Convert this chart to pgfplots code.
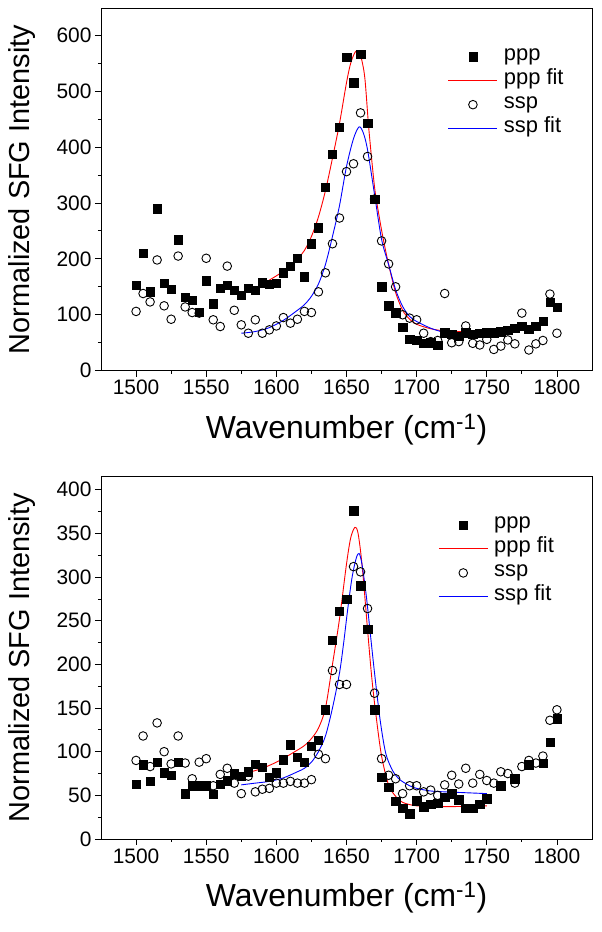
\documentclass[border=0pt]{standalone}
\usepackage{pgfplots}
\pgfplotsset{compat=1.18}
\usepackage{fontspec}
\setmainfont{Liberation Sans}

\pgfplotsset{
  sfgaxis/.style={
    scale only axis,
    width=491bp,
    xmin=1475, xmax=1825,
    xtick={1500,1550,...,1800},
    minor x tick num=1,
    minor y tick num=1,
    tick align=outside,
    tick pos=left,
    major tick length=6bp,
    minor tick length=3bp,
    axis line style={line width=0.9bp},
    every tick/.style={black,line width=0.8bp},
    /pgf/number format/assume math mode=true,
    /pgf/number format/1000 sep={},
    tick label style={font=\fontsize{21}{25}\selectfont},
    every axis x label/.style={at={(axis description cs:0.5,-0.187)},anchor=base,font=\fontsize{32}{38}\selectfont},
    every axis y label/.style={at={(axis description cs:-0.161,0.5)},rotate=90,anchor=center,font=\fontsize{29}{35}\selectfont},
    xlabel={Wavenumber (cm\textsuperscript{-1})},
    ylabel={Normalized SFG Intensity},
    legend cell align=left,
    legend style={draw=none,fill=none,inner sep=0pt,outer sep=0pt,
      font=\fontsize{22}{26}\selectfont,
      row sep=0pt,
      nodes={inner sep=0pt,text height=16bp,text depth=8bp},
      /tikz/every odd column/.append style={column sep=6bp}},
  },
  markleg/.style={legend image code/.code={\draw[mark repeat=2,mark phase=2,##1] plot coordinates {(0bp,0bp) (24.5bp,0bp) (49bp,0bp)};}},
  lineleg/.style={legend image code/.code={\draw[##1] (0bp,0bp) -- (49bp,0bp);}},
  pppstyle/.style={only marks,mark=square*,mark size=4.2bp,black,markleg},
  sspstyle/.style={only marks,mark=o,mark size=4.3bp,black,mark options={line width=0.9bp},markleg},
  fitred/.style={no marks,red,line width=0.9bp,smooth,lineleg},
  fitblue/.style={no marks,blue,line width=0.9bp,smooth,lineleg},
}

\pgfplotstableread{
x y
1500 153
1505 210
1510 141
1515 290
1520 156
1525 146
1530 234
1535 131
1540 126
1545 105
1550 161
1555 120
1560 147
1565 153
1570 144
1575 135
1580 147
1585 144
1590 157
1595 155
1600 156
1605 175
1610 187
1615 201
1620 168
1625 227
1630 256
1635 328
1640 387
1645 435
1650 561
1655 515
1660 566
1665 443
1670 307
1675 150
1680 116
1685 104
1690 78
1695 56
1700 54
1705 49
1710 50
1715 46
1720 68
1725 65
1730 62
1735 68
1740 65
1745 67
1750 68
1755 68
1760 70
1765 72
1770 76
1775 80
1780 74
1785 80
1790 89
1795 123
1800 113
}\topppp

\pgfplotstableread{
x y
1500 106
1505 138
1510 123
1515 198
1520 116
1525 92
1530 205
1535 114
1540 104
1545 103
1550 201
1555 91
1560 79
1565 187
1570 108
1575 82
1580 67
1585 91
1590 67
1595 73
1600 80
1605 95
1610 85
1615 92
1620 106
1625 104
1630 141
1635 175
1640 227
1645 273
1650 356
1655 370
1660 461
1665 383
1670 307
1675 232
1680 191
1685 150
1690 100
1695 94
1700 91
1705 67
1710 52
1715 54
1720 138
1725 50
1730 52
1735 80
1740 49
1745 46
1750 56
1755 38
1760 44
1765 55
1770 48
1775 103
1780 37
1785 48
1790 54
1795 137
1800 67
}\topssp

\pgfplotstableread{
x y
1575 138
1585 148
1595 162
1605 178
1615 200
1620 215
1625 240
1630 275
1635 322
1640 380
1645 442
1650 515
1653 550
1656 569
1658 572
1660 564
1663 525
1666 430
1670 328
1673 280
1676 238
1680 190
1685 140
1690 108
1695 92
1700 83
1710 75
1720 71
1730 70
1740 70
1750 72
}\topfitppp

\pgfplotstableread{
x y
1575 67
1585 70
1595 77
1605 90
1615 108
1620 118
1625 133
1630 155
1635 190
1640 240
1645 295
1650 365
1655 415
1659 436
1662 425
1665 395
1670 315
1675 235
1680 190
1685 145
1690 115
1695 97
1700 88
1710 76
1720 68
1725 66
}\topfitssp

\pgfplotstableread{
x y
1500 63
1505 85
1510 66
1515 88
1520 76
1525 73
1530 88
1535 52
1540 61
1545 61
1550 61
1555 51
1560 63
1565 67
1570 75
1575 72
1580 77
1585 86
1590 82
1595 71
1600 76
1605 91
1610 108
1615 94
1620 88
1625 106
1630 113
1635 148
1640 228
1645 261
1650 275
1655 376
1660 290
1665 240
1670 148
1675 71
1680 59
1685 43
1690 35
1695 29
1700 44
1705 37
1710 40
1715 41
1720 48
1725 52
1730 45
1735 35
1740 35
1745 40
1750 46
1760 61
1770 69
1780 85
1790 87
1795 111
1800 138
}\botppp

\pgfplotstableread{
x y
1500 90
1505 118
1510 83
1515 133
1520 100
1525 86
1530 118
1535 87
1540 69
1545 88
1550 92
1555 61
1560 74
1565 81
1570 64
1575 52
1580 72
1585 54
1590 57
1595 58
1600 64
1605 64
1610 66
1615 64
1620 64
1625 68
1630 97
1635 92
1640 193
1645 177
1650 177
1655 312
1660 306
1665 264
1670 167
1675 92
1680 73
1685 69
1690 52
1695 61
1700 61
1705 54
1710 56
1715 50
1720 62
1725 73
1730 63
1735 81
1740 64
1745 74
1750 67
1755 64
1760 77
1765 75
1770 64
1775 83
1780 90
1785 87
1790 95
1795 136
1800 148
}\botssp

\pgfplotstableread{
x y
1570 71
1580 76
1590 81
1600 88
1610 97
1620 107
1625 115
1630 127
1635 150
1640 200
1645 252
1650 315
1653 345
1656 357
1658 352
1660 330
1662 298
1665 240
1668 185
1671 142
1675 95
1680 62
1685 49
1690 42
1700 38
1720 37
1750 38
}\botfitppp

\pgfplotstableread{
x y
1575 62
1585 64
1595 66
1605 70
1615 77
1620 81
1625 88
1630 100
1635 118
1640 150
1645 190
1648 225
1651 265
1654 300
1657 322
1659 327
1661 315
1664 280
1667 235
1670 190
1674 136
1678 98
1683 78
1688 68
1695 61
1700 58
1710 55
1720 54
1735 53
1750 52
}\botfitssp

\begin{document}
\begin{tikzpicture}
\useasboundingbox (0bp,0bp) rectangle (602bp,932bp);

\begin{axis}[sfgaxis,
  at={(101bp,561.3bp)}, anchor=south west,
  height=362.4bp,
  ymin=0, ymax=648,
  ytick={0,100,...,600},
  legend style={at={(0.7067,0.8996)},anchor=north west},
]
\addplot[pppstyle] table[x=x,y=y] {\topppp};
\addlegendentry{ppp}
\addplot[fitred] table[x=x,y=y] {\topfitppp};
\addlegendentry{ppp fit}
\addplot[sspstyle] table[x=x,y=y] {\topssp};
\addlegendentry{ssp}
\addplot[fitblue] table[x=x,y=y] {\topfitssp};
\addlegendentry{ssp fit}
\end{axis}

\begin{axis}[sfgaxis,
  at={(101bp,93bp)}, anchor=south west,
  height=362.3bp,
  ymin=0, ymax=415,
  ytick={0,50,...,400},
  legend style={at={(0.687,0.900)},anchor=north west},
]
\addplot[pppstyle] table[x=x,y=y] {\botppp};
\addlegendentry{ppp}
\addplot[fitred] table[x=x,y=y] {\botfitppp};
\addlegendentry{ppp fit}
\addplot[sspstyle] table[x=x,y=y] {\botssp};
\addlegendentry{ssp}
\addplot[fitblue] table[x=x,y=y] {\botfitssp};
\addlegendentry{ssp fit}
\end{axis}
\end{tikzpicture}
\end{document}
